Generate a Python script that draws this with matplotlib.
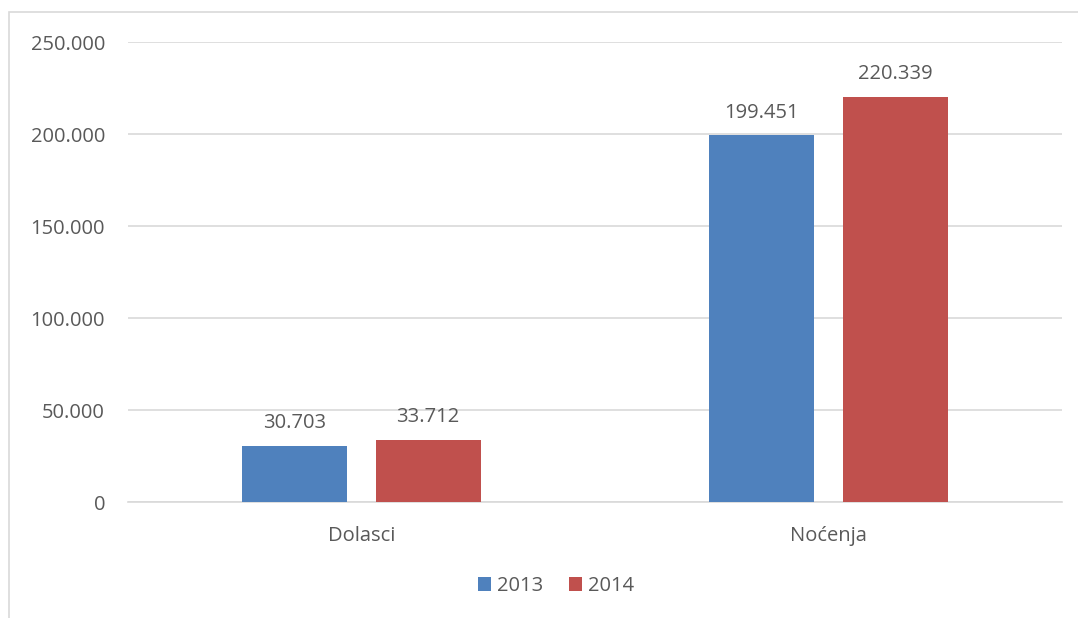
import matplotlib
matplotlib.use("Agg")
import matplotlib.pyplot as plt
from matplotlib.patches import Rectangle
import numpy as np

categories = ["Dolasci", "Noćenja"]
series_names = ["2013", "2014"]
values_2013 = [30703, 199451]
values_2014 = [33712, 220339]
yticks = [0, 50000, 100000, 150000, 200000, 250000]
ytick_labels = ["0", "50.000", "100.000", "150.000", "200.000", "250.000"]

plt.rcParams['font.family'] = ['Open Sans', 'DejaVu Sans']
txt = "#595959"
colors = ["#4f81bd", "#c0504d"]
fs = 14.5

fig = plt.figure(figsize=(10.78, 6.18), dpi=100)
fig.patches.append(Rectangle((9/1078, -0.05), 1.1, 0.05 + 1 - 12/618,
                             transform=fig.transFigure, fill=False,
                             edgecolor="#d9d9d9", linewidth=1.2))
ax = fig.add_axes([128/1078, 1 - 502/618, (1062 - 128)/1078, (502 - 42)/618])

x = np.arange(len(categories))
w = 0.225
off = 0.1425
b1 = ax.bar(x - off, values_2013, w, color=colors[0], label=series_names[0], zorder=3)
b2 = ax.bar(x + off, values_2014, w, color=colors[1], label=series_names[1], zorder=3)

def fmt(v):
    return f"{v:,}".replace(",", ".")

for bars, vals in ((b1, values_2013), (b2, values_2014)):
    for r, v in zip(bars, vals):
        ax.annotate(fmt(v), (r.get_x() + r.get_width()/2, v), xytext=(0, 9),
                    textcoords="offset points", ha="center", va="bottom",
                    fontsize=fs, color=txt)

ax.set_xlim(-0.5, 1.5)
ax.set_ylim(0, 250000)
ax.set_yticks(yticks)
ax.set_yticklabels(ytick_labels)
ax.set_xticks(x)
ax.set_xticklabels(categories)
ax.tick_params(axis="both", length=0, labelsize=fs, colors=txt)
ax.tick_params(axis="x", pad=17)
ax.tick_params(axis="y", pad=16.5)
ax.grid(axis="y", color="#d9d9d9", linewidth=1.2, zorder=0)
for s in ["top", "right", "left"]:
    ax.spines[s].set_visible(False)
ax.spines["bottom"].set_color("#d9d9d9")
ax.spines["bottom"].set_linewidth(1.2)

leg = fig.legend(handles=[b1, b2], labels=series_names, loc="center",
                 bbox_to_anchor=(556/1078, 1 - 586/618), ncol=2, frameon=False,
                 fontsize=fs, handlelength=0.65, handleheight=0.65,
                 handletextpad=0.3, columnspacing=1.3)
for t in leg.get_texts():
    t.set_color(txt)

fig.savefig("out.png", dpi=100)
